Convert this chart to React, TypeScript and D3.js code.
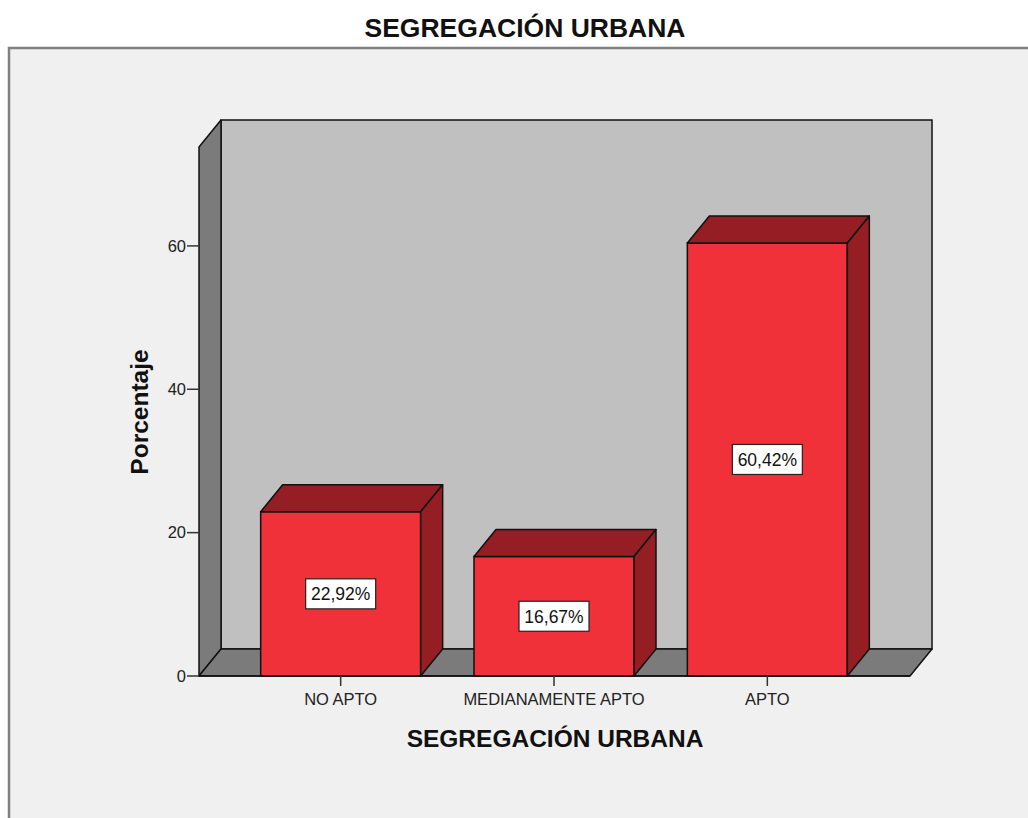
import React from 'react';
import * as d3 from 'd3';

// chart data
const categories = ['NO APTO', 'MEDIANAMENTE APTO', 'APTO'];
const percentages = [22.92, 16.67, 60.42];
const valueLabels = ['22,92%', '16,67%', '60,42%'];
const yTicks = [0, 20, 40, 60];

const layout = {
    width: 1028,
    height: 818,
    left: 199,
    right: 910,
    top: 147,
    bottom: 676,
    depthX: 22,
    depthY: 27
};

const colors = {
    frame: '#f0f0f0',
    frameLine: '#808080',
    backWall: '#c0c0c0',
    sideWall: '#7b7b7b',
    barFront: '#f0313a',
    barDark: '#941e23'
};

const FONT = '"Liberation Sans", Arial, sans-serif';

const pts = (arr: number[][]) => arr.map(p => p.join(',')).join(' ');

export default function App() {
    const { width, height, left, right, top, bottom, depthX: dx, depthY: dy } = layout;

    const y = d3.scaleLinear().domain([0, 73.8]).range([bottom, top]);
    const x = d3.scaleBand<string>()
        .domain(categories)
        .range([234, 874])
        .paddingInner(0.25)
        .paddingOuter(0.125);

    const bars = categories.map((c, i) => {
        const x0 = x(c) as number;
        const x1 = x0 + x.bandwidth();
        const yt = y(percentages[i]);
        return { c, i, x0, x1, yt, cx: x0 + x.bandwidth() / 2, label: valueLabels[i], ym: y(percentages[i] / 2) };
    });

    return (
        <svg width={width} height={height} style={{ position: 'absolute', left: 0, top: 0, background: '#fff' }}>
            <rect x={9} y={48} width={width + 20} height={height} fill={colors.frame} stroke={colors.frameLine} strokeWidth={2.5} />

            <text x={525} y={37} textAnchor="middle" fontFamily={FONT} fontWeight="bold" fontSize={26.5} fill="#111">
                SEGREGACIÓN URBANA
            </text>

            {/* back wall */}
            <rect x={left + dx} y={top - dy} width={right - left} height={bottom - top}
                  fill={colors.backWall} stroke="#111" strokeWidth={1.5} />
            {/* left wall */}
            <polygon points={pts([[left, bottom], [left, top], [left + dx, top - dy], [left + dx, bottom - dy]])}
                     fill={colors.sideWall} stroke="#111" strokeWidth={1.5} strokeLinejoin="round" />
            {/* floor */}
            <polygon points={pts([[left, bottom], [right, bottom], [right + dx, bottom - dy], [left + dx, bottom - dy]])}
                     fill={colors.sideWall} stroke="#111" strokeWidth={1.5} strokeLinejoin="round" />

            {/* y axis */}
            {yTicks.map(t => (
                <g key={t}>
                    <line x1={left - 12} x2={left} y1={y(t)} y2={y(t)} stroke="#333" strokeWidth={1.5} />
                    <text x={left - 13} y={y(t)} dy="0.35em" textAnchor="end" fontFamily={FONT} fontSize={16.5} fill="#222">{t}</text>
                </g>
            ))}

            {/* bars */}
            {bars.map(b => (
                <g key={b.c}>
                    <rect x={b.x0} y={b.yt} width={b.x1 - b.x0} height={bottom - b.yt}
                          fill={colors.barFront} stroke="#111" strokeWidth={1.5} />
                    <polygon points={pts([[b.x0, b.yt], [b.x0 + dx, b.yt - dy], [b.x1 + dx, b.yt - dy], [b.x1, b.yt]])}
                             fill={colors.barDark} stroke="#111" strokeWidth={1.5} strokeLinejoin="round" />
                    <polygon points={pts([[b.x1, b.yt], [b.x1 + dx, b.yt - dy], [b.x1 + dx, bottom - dy], [b.x1, bottom]])}
                             fill={colors.barDark} stroke="#111" strokeWidth={1.5} strokeLinejoin="round" />
                    <rect x={b.cx - 35} y={b.ym - 15} width={70} height={30} fill="#fff" stroke="#222" strokeWidth={1.2} />
                    <text x={b.cx} y={b.ym} dy="0.36em" textAnchor="middle" fontFamily={FONT} fontSize={17.5} fill="#111">{b.label}</text>
                </g>
            ))}

            {/* x axis */}
            <line x1={left} x2={right} y1={bottom} y2={bottom} stroke="#111" strokeWidth={1.5} />
            {bars.map(b => (
                <g key={'t' + b.c}>
                    <line x1={b.cx} x2={b.cx} y1={bottom} y2={bottom + 10} stroke="#333" strokeWidth={1.5} />
                    <text x={b.cx} y={705} textAnchor="middle" fontFamily={FONT} fontSize={16.5} fill="#222">{b.c}</text>
                </g>
            ))}

            <text x={555} y={747} textAnchor="middle" fontFamily={FONT} fontWeight="bold" fontSize={24.5} fill="#111">
                SEGREGACIÓN URBANA
            </text>
            <text transform="translate(148,412) rotate(-90)" textAnchor="middle" fontFamily={FONT} fontWeight="bold" fontSize={24.5} fill="#111">
                Porcentaje
            </text>
        </svg>
    );
}
